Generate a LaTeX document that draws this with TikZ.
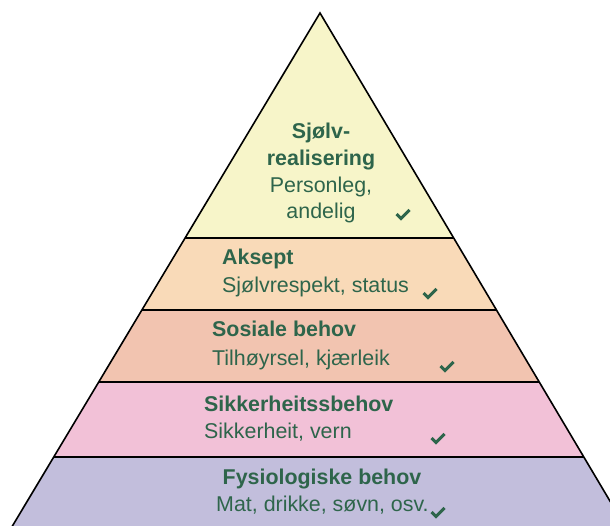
\documentclass[tikz,border=0pt]{standalone}
\usepackage{fontspec}
\setmainfont{Liberation Sans}
\definecolor{cYel}{HTML}{F7F5C9}
\definecolor{cPea}{HTML}{F9DAB8}
\definecolor{cSal}{HTML}{F2C4B0}
\definecolor{cPin}{HTML}{F2C1D7}
\definecolor{cLav}{HTML}{C2BEDC}
\definecolor{cTxt}{HTML}{2E654B}
\tikzset{
  head/.style={font=\fontsize{21.4}{25}\selectfont\bfseries, text=cTxt, inner sep=0pt},
  body/.style={font=\fontsize{21.4}{25}\selectfont, text=cTxt, inner sep=0pt},
  tick/.style={draw=cTxt, line width=3pt, line cap=butt, line join=miter},
  divider/.style={draw=black, line width=1.6pt},
}
\begin{document}
\begin{tikzpicture}[x=1pt,y=-1pt]
\useasboundingbox (0,0) rectangle (610,526);
\begin{scope}
  \clip (0,0) rectangle (610,526);
  \begin{scope}
    \clip (320,13) -- (-8,560) -- (645,560) -- cycle;
    \fill[cYel] (-10,0) rectangle (650,238);
    \fill[cPea] (-10,238) rectangle (650,310);
    \fill[cSal] (-10,310) rectangle (650,382);
    \fill[cPin] (-10,382) rectangle (650,457);
    \fill[cLav] (-10,457) rectangle (650,560);
    \draw[divider] (-10,238) -- (650,238);
    \draw[divider] (-10,310) -- (650,310);
    \draw[divider] (-10,382) -- (650,382);
    \draw[divider] (-10,457) -- (650,457);
  \end{scope}
  \draw[line width=1.6pt, line join=miter] (-8,560) -- (320,13) -- (645,560);
\end{scope}

% top layer
\node[head, anchor=base] (t1) at (321,139) {Sjølv-};
\node[head, anchor=base] (t2) at (321,166) {realisering};
\node[body, anchor=base] (t3) at (321,193) {Personleg,};
\node[body, anchor=base] (t4) at (321,219) {andelig};
% Aksept
\node[head, anchor=base west] (a1) at (222,265) {Aksept};
\node[body, anchor=base west] (a2) at (222,293) {Sjølvrespekt, status};
% Sosiale
\node[head, anchor=base west] (s1) at (212,337) {Sosiale behov};
\node[body, anchor=base west] (s2) at (212,365) {Tilhøyrsel, kjærleik};
% Sikkerheit
\node[head, anchor=base west] (k1) at (204,411) {Sikkerheitssbehov};
\node[body, anchor=base west] (k2) at (204,438) {Sikkerheit, vern};
% Fysiologiske
\node[head, anchor=base] (f1) at (322,484) {Fysiologiske behov};
\node[body, anchor=base west] (f2) at (216,511) {Mat, drikke, søvn, osv.};

% check marks
\foreach \cx/\cy in {403/215, 430/294, 447/367, 438/439, 438/513}{
  \draw[tick] (\cx-6.5,\cy-1) -- (\cx-2,\cy+3.5) -- (\cx+6.5,\cy-5);
}
\end{tikzpicture}
\end{document}
